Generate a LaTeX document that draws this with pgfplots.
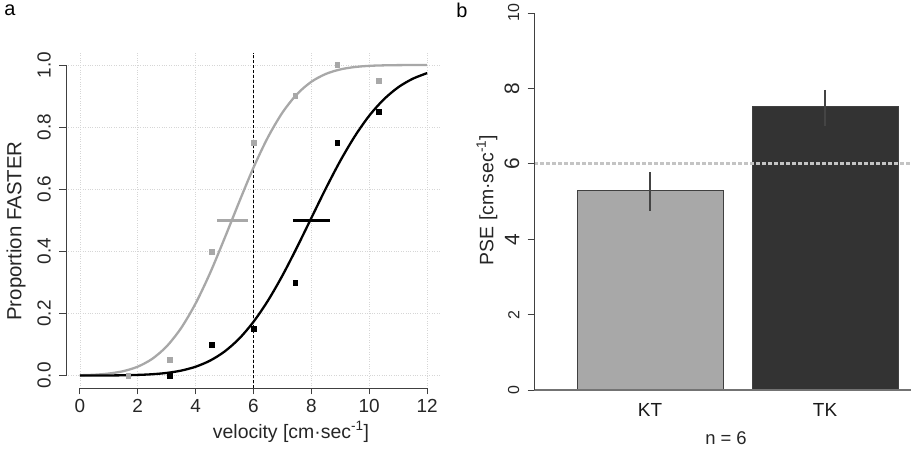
\documentclass[border=0pt]{standalone}
\usepackage{fontspec}
\setmainfont{Liberation Sans}
\usepackage{pgfplots}
\pgfplotsset{compat=1.18}
\definecolor{lightgrey}{HTML}{A8A8A8}
\definecolor{darkbar}{HTML}{333333}
\definecolor{gridgrey}{HTML}{D6D6D6}
\definecolor{axisgrey}{HTML}{404040}
\definecolor{errgrey}{HTML}{444444}
\definecolor{refgrey}{HTML}{C4C4C4}
\newcommand{\fs}[1]{\fontsize{#1}{#1}\selectfont}

\begin{document}
\begin{tikzpicture}[x=1bp,y=1bp]
\path[use as bounding box] (0,0) rectangle (911,452);

% panel a: psychometric functions
\begin{axis}[
  at={(66bp,64bp)}, anchor=south west,
  scale only axis, width=375bp, height=335.4bp,
  xmin=-0.48, xmax=12.48, ymin=-0.04, ymax=1.04,
  axis x line*=bottom, axis y line*=left,
  axis line style={draw=none},
  clip=false,
  xtick={0,2,4,6,8,10,12},
  ytick={0,0.2,0.4,0.6,0.8,1},
  yticklabels={0.0,0.2,0.4,0.6,0.8,1.0},
  tick align=outside, major tick length=6.5bp,
  tick style={axisgrey, line width=0.9bp},
  grid=major, grid style={gridgrey, dotted, line width=0.7bp},
  /pgf/number format/assume math mode=true,
  xticklabel style={font=\fs{19}, text=black!85, inner sep=0pt, anchor=north, yshift=-5bp},
  % rotated labels: yshift acts towards the left of the page
  yticklabel style={font=\fs{19}, text=black!85, inner sep=0pt, rotate=90, anchor=south, yshift=8.5bp},
]
\draw[axisgrey, line width=0.9bp] (axis cs:0,-0.04) -- (axis cs:12,-0.04);
\draw[axisgrey, line width=0.9bp] (axis cs:-0.48,0) -- (axis cs:-0.48,1);

\addplot[black, dashed, dash pattern=on 3bp off 2bp, line width=0.7bp]
  coordinates {(6,-0.04) (6,1.04)};

% fitted curves, KT (grey) and TK (black)
\addplot[lightgrey, line width=2.3bp, smooth, no marks] coordinates {
(0,0.0011) (0.5,0.0027) (1,0.0065) (1.5,0.0142) (2,0.0287) (2.5,0.0539)
(3,0.0941) (3.5,0.1532) (4,0.2324) (4.5,0.3303) (5,0.4420) (5.5,0.5580)
(6,0.6697) (6.5,0.7676) (7,0.8468) (7.5,0.9059) (8,0.9461) (8.5,0.9713)
(9,0.9858) (9.5,0.9935) (10,0.9973) (10.5,0.9989) (11,0.9996) (11.5,0.9999) (12,1.0)
};
\addplot[black, line width=2.3bp, smooth, no marks] coordinates {
(0,0.0001) (0.5,0.0002) (1,0.0004) (1.5,0.0009) (2,0.0021) (2.5,0.0043)
(3,0.0085) (3.5,0.0160) (4,0.0285) (4.5,0.0482) (5,0.0774) (5.5,0.1184)
(6,0.1731) (6.5,0.2414) (7,0.3221) (7.5,0.4125) (8,0.5076) (8.5,0.6026)
(9,0.6915) (9.5,0.7704) (10,0.8368) (10.5,0.8890) (11,0.9282) (11.5,0.9556) (12,0.9739)
};

% PSE intervals
\addplot[lightgrey, line width=3bp, no marks] coordinates {(4.74,0.5) (5.81,0.5)};
\addplot[black, line width=3bp, no marks] coordinates {(7.36,0.5) (8.63,0.5)};

% observed proportions
\addplot[only marks, mark=square*, mark size=2.4bp, black] coordinates {
(1.67,0) (3.11,0) (4.55,0.10) (6.0,0.15) (7.44,0.30) (8.89,0.75) (10.33,0.85)
};
\addplot[only marks, mark=square*, mark size=2.4bp, lightgrey] coordinates {
(1.67,0) (3.11,0.05) (4.55,0.40) (6.0,0.75) (7.44,0.90) (8.89,1.00) (10.33,0.95)
};
\end{axis}

% panel b: PSE bars
\begin{axis}[
  at={(534bp,62bp)}, anchor=south west,
  scale only axis, width=377bp, height=377bp,
  xmin=0.337, xmax=2.491, ymin=0, ymax=10,
  axis x line*=bottom, axis y line*=left,
  axis line style={draw=none},
  clip=false,
  xtick={1,2}, xticklabels={KT,TK},
  major x tick style={draw=none},
  ytick={0,2,4,6,8,10},
  yticklabels={{\fs{16}0},{\fs{16}2},{\fs{21}4},{\fs{21}6},{\fs{21}8},{\fs{16}10}},
  tick align=outside, major tick length=6.5bp,
  tick style={axisgrey, line width=0.9bp},
  /pgf/number format/assume math mode=true,
  xticklabel style={font=\fs{19}, text=black!90, inner sep=0pt, anchor=north, yshift=-7bp},
  yticklabel style={text=black!85, inner sep=0pt, rotate=90, anchor=south, yshift=8bp},
]
\addplot[ybar, bar shift=0pt, bar width=146bp, fill=lightgrey, draw=axisgrey, line width=0.9bp,
  error bars/.cd, y dir=both, y explicit, error mark=none,
  error bar style={errgrey, line width=2.6bp, solid}]
  coordinates {(1,5.28) += (0,0.50) -= (0,0.53)};
\addplot[ybar, bar shift=0pt, bar width=146bp, fill=darkbar, draw=axisgrey, line width=0.9bp,
  error bars/.cd, y dir=both, y explicit, error mark=none,
  error bar style={errgrey, line width=2.6bp, solid}]
  coordinates {(2,7.53) += (0,0.43) -= (0,0.53)};
\draw[refgrey, line width=2.6bp, dash pattern=on 3.5bp off 2.5bp] (axis cs:0.337,6) -- (axis cs:2.491,6);
\draw[black!55, line width=1.1bp] (axis cs:0.337,0) -- (axis cs:2.491,0);
\draw[axisgrey, line width=0.9bp] (axis cs:0.337,0) -- (axis cs:0.337,10);
\end{axis}

\node[font=\fs{20}] at (10,442) {a};
\node[font=\fs{20}] at (462,442) {b};
\node[font=\fs{19.5}, text=black!85] at (291,20) {velocity [cm·sec\textsuperscript{-1}]};
\node[font=\fs{20.5}, text=black!85, rotate=90] at (16,221) {Proportion FASTER};
\node[font=\fs{19.5}, text=black!85, rotate=90] at (487,252) {PSE [cm·sec\textsuperscript{-1}]};
\node[font=\fs{18.5}, text=black!85] at (726,14) {n = 6};
\end{tikzpicture}
\end{document}
